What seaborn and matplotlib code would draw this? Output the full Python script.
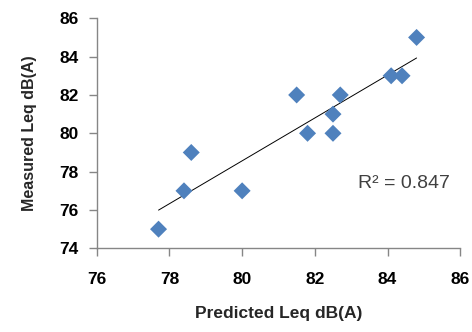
import matplotlib
matplotlib.use("Agg")
import matplotlib.pyplot as plt
import seaborn as sns
import numpy as np
import pandas as pd

# values
predicted = [77.7, 78.4, 78.6, 80.0, 81.5, 81.8, 82.5, 82.5, 82.7, 84.1, 84.4, 84.8]
measured = [75, 77, 79, 77, 82, 80, 80, 81, 82, 83, 83, 85]
r_squared = 0.847

df = pd.DataFrame({"Predicted": predicted, "Measured": measured})

sns.set_style("white")
plt.rcParams['font.family'] = ['Liberation Sans', 'DejaVu Sans']

fig = plt.figure(figsize=(4.72, 3.32), dpi=100)
ax = fig.add_axes([0.205, 0.252, 0.77, 0.693])

sns.regplot(data=df, x="Predicted", y="Measured", scatter=False, ci=None,
            color="black", line_kws={"linewidth": 0.7}, ax=ax)
sns.scatterplot(data=df, x="Predicted", y="Measured", marker="D", s=75,
                color="#4F81BD", edgecolor="none", ax=ax, zorder=3)

ax.set_xlim(76, 86)
ax.set_ylim(74, 86)
ax.set_xticks(np.arange(76, 87, 2))
ax.set_yticks(np.arange(74, 87, 2))

for side in ["top", "right"]:
    ax.spines[side].set_visible(False)
for side in ["left", "bottom"]:
    ax.spines[side].set_color("#868686")
    ax.spines[side].set_linewidth(1.0)

ax.tick_params(axis="both", direction="out", length=6, width=1.0, color="#868686",
               labelsize=12.5, labelcolor="black")
ax.tick_params(axis="x", pad=11, bottom=True)
ax.tick_params(axis="y", pad=7, left=True)
for lab in ax.get_xticklabels() + ax.get_yticklabels():
    lab.set_fontweight("bold")

ax.set_xlabel("Predicted Leq dB(A)", fontsize=12.5, fontweight="bold", labelpad=14)
ax.set_ylabel("Measured Leq dB(A)", fontsize=11.5, fontweight="bold", labelpad=16)

ax.text(83.2, 77.4, f"R² = {r_squared}", fontsize=14, color="#404040", va="center")

fig.savefig("out.png", dpi=100)
